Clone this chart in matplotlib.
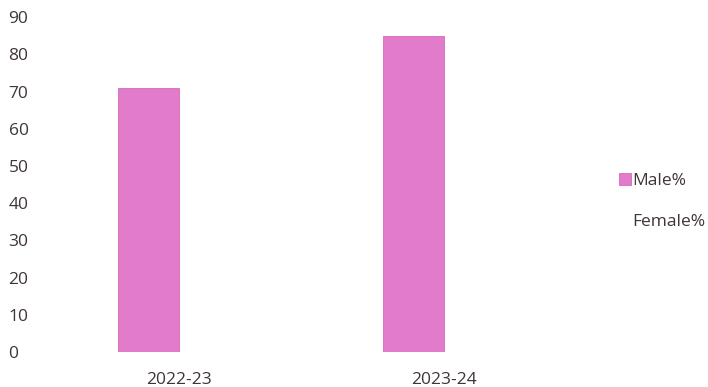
import matplotlib.pyplot as plt
import numpy as np

years = ['2022-23', '2023-24']
male_pct = [71, 85]
female_pct = [29, 15]

plt.rcParams['font.family'] = ['Open Sans', 'DejaVu Sans']
txt = '#3f3535'

fig = plt.figure(figsize=(7.08, 3.87), dpi=100)
ax = fig.add_axes([0.065, 0.09, 0.75, 0.866])

x = np.arange(len(years))
w = 0.23
ax.bar(x - w / 2, male_pct, w, color='#e27bc9', edgecolor='#d868bd', linewidth=0.6,
       label='Male%', zorder=3)
ax.bar(x + w / 2, female_pct, w, color='white', linewidth=0, label='Female%', zorder=1)

ax.set_xlim(-0.5, 1.5)
ax.set_ylim(0, 90)
ax.set_yticks(range(0, 91, 10))
ax.set_xticks(x)
ax.set_xticklabels(years)
for s in ax.spines.values():
    s.set_visible(False)
ax.tick_params(length=0, colors=txt, labelsize=12.5)
ax.tick_params(axis='y', pad=27)
for lab in ax.get_yticklabels():
    lab.set_horizontalalignment('left')
ax.tick_params(axis='x', pad=14)

leg = ax.legend(loc='center left', bbox_to_anchor=(1.05, 0.45), frameon=False,
                fontsize=12.5, handlelength=0.7, handleheight=0.7,
                handletextpad=0.05, labelspacing=1.4, labelcolor=txt)

fig.savefig('out.png', dpi=100)
